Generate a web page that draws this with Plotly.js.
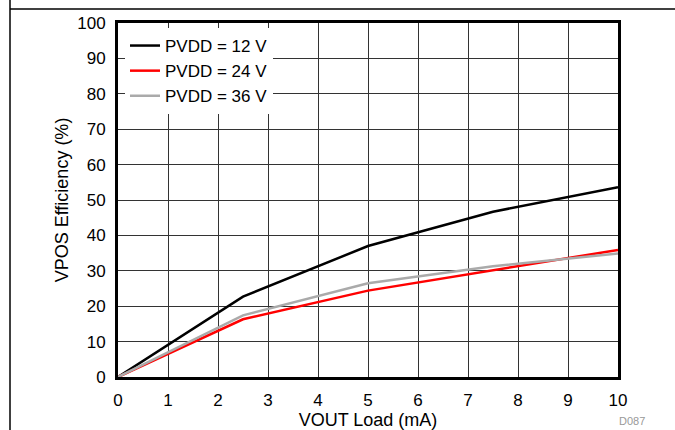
<!DOCTYPE html>
<html>
<head>
<meta charset="utf-8">
<script src="https://cdn.plot.ly/plotly-3.0.1.min.js"></script>
<style>html,body{margin:0;padding:0;background:#fff;}#chart{width:675px;height:430px;}</style>
</head>
<body>
<div id="chart"></div>
<script>
// Data
const loadMA = [0, 2.5, 5, 7.5, 10];
const eff12V = [0, 22.7, 37.0, 46.7, 53.6];
const eff24V = [0, 16.3, 24.4, 30.2, 35.9];
const eff36V = [0, 17.4, 26.5, 31.3, 34.9];
const seriesNames = ['PVDD = 12 V', 'PVDD = 24 V', 'PVDD = 36 V'];
const xTicks = [0,1,2,3,4,5,6,7,8,9,10];
const yTicks = [0,10,20,30,40,50,60,70,80,90,100];

const FONT = 'Liberation Sans, Arial, sans-serif';
const L = 118, R = 57, T = 23, B = 53, W = 675, H = 430;
const pw = W - L - R, ph = H - T - B;
const px = v => (v - L) / pw;
const py = v => (H - B - v) / ph;

const traces = [
  {x: loadMA, y: eff12V, name: seriesNames[0], mode: 'lines', line: {color: '#000000', width: 2.5}},
  {x: loadMA, y: eff24V, name: seriesNames[1], mode: 'lines', line: {color: '#ff0000', width: 2.5}},
  {x: loadMA, y: eff36V, name: seriesNames[2], mode: 'lines', line: {color: '#aaaaaa', width: 2.5}}
];

const layout = {
  width: W, height: H,
  margin: {l: L, r: R, t: T, b: B, pad: 0},
  paper_bgcolor: '#ffffff', plot_bgcolor: '#ffffff',
  font: {family: FONT, size: 17, color: '#000'},
  showlegend: true,
  legend: {
    x: px(125), y: py(28), xanchor: 'left', yanchor: 'top',
    bgcolor: '#ffffff', borderwidth: 0,
    font: {family: FONT, size: 17, color: '#000'},
    tracegroupgap: 0
  },
  xaxis: {
    range: [0, 10], tickvals: xTicks, ticktext: xTicks.map(String),
    showgrid: true, gridcolor: '#333333', gridwidth: 1,
    zeroline: false, showline: true, linecolor: '#000', linewidth: 3, mirror: true,
    ticks: '', ticklabelstandoff: 6,
    tickfont: {family: FONT, size: 17, color: '#000'},
    title: {text: 'VOUT Load (mA)', font: {family: FONT, size: 18, color: '#000'}, standoff: 1}
  },
  yaxis: {
    range: [0, 100], tickvals: yTicks, ticktext: yTicks.map(String),
    showgrid: true, gridcolor: '#333333', gridwidth: 1,
    zeroline: false, showline: true, linecolor: '#000', linewidth: 3, mirror: true,
    ticks: '', ticklabelstandoff: 6,
    tickfont: {family: FONT, size: 17, color: '#000'},
    title: {text: 'VPOS Efficiency (%)', font: {family: FONT, size: 18, color: '#000'}, standoff: 4}
  },
  shapes: [
    {type: 'line', xref: 'paper', yref: 'paper', x0: px(10), x1: px(10), y0: py(0), y1: py(430), line: {color: '#000', width: 1.5}, layer: 'above'},
    {type: 'line', xref: 'paper', yref: 'paper', x0: px(10), x1: px(675), y0: py(9), y1: py(9), line: {color: '#000', width: 1.5}, layer: 'above'}
  ],
  annotations: [
    {text: 'D087', xref: 'paper', yref: 'paper', x: px(632), y: py(429), xanchor: 'center', yanchor: 'bottom',
     showarrow: false, font: {family: FONT, size: 11, color: '#999999'}}
  ]
};

Plotly.newPlot('chart', traces, layout, {displayModeBar: false, staticPlot: true});
</script>
</body>
</html>
